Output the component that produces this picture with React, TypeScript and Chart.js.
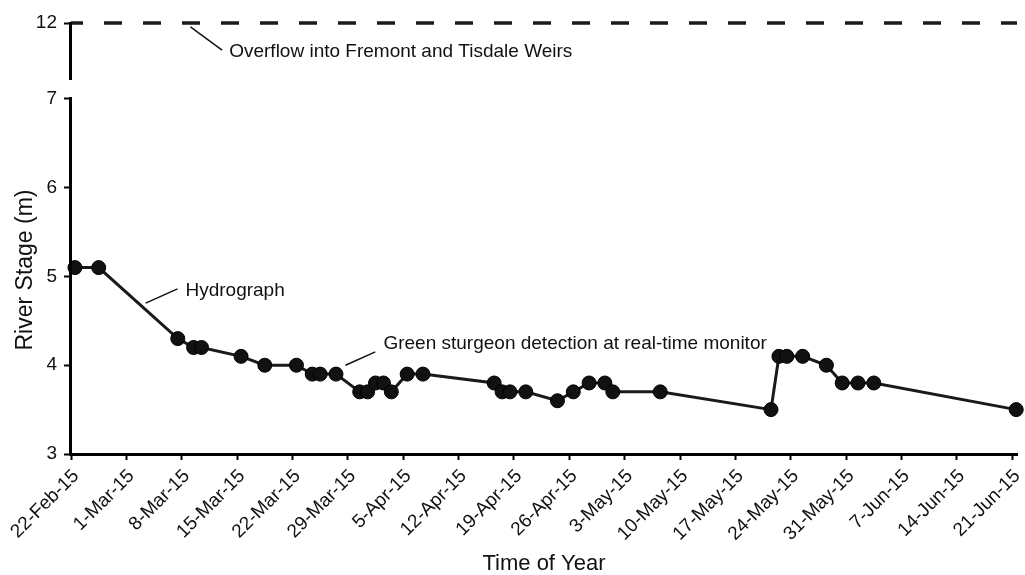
import { useEffect, useRef } from "react";
import { Chart, registerables } from "chart.js";

Chart.register(...registerables);

// ---------- data ----------
const START_DATE = "2015-02-22";
const SAMPLE_DATES = [
  "2015-02-22", "2015-02-25", "2015-03-07", "2015-03-09", "2015-03-10", "2015-03-15",
  "2015-03-18", "2015-03-22", "2015-03-24", "2015-03-25", "2015-03-27", "2015-03-30",
  "2015-03-31", "2015-04-01", "2015-04-02", "2015-04-03", "2015-04-05", "2015-04-07",
  "2015-04-16", "2015-04-17", "2015-04-18", "2015-04-20", "2015-04-24", "2015-04-26",
  "2015-04-28", "2015-04-30", "2015-05-01", "2015-05-07", "2015-05-21", "2015-05-22",
  "2015-05-23", "2015-05-25", "2015-05-28", "2015-05-30", "2015-06-01", "2015-06-03",
  "2015-06-21",
];
const RIVER_STAGE_M = [
  5.1, 5.1, 4.3, 4.2, 4.2, 4.1,
  4.0, 4.0, 3.9, 3.9, 3.9, 3.7,
  3.7, 3.8, 3.8, 3.7, 3.9, 3.9,
  3.8, 3.7, 3.7, 3.7, 3.6, 3.7,
  3.8, 3.8, 3.7, 3.7, 3.5, 4.1,
  4.1, 4.1, 4.0, 3.8, 3.8, 3.8,
  3.5,
];
const X_TICK_DATES = [
  "2015-02-22", "2015-03-01", "2015-03-08", "2015-03-15", "2015-03-22", "2015-03-29",
  "2015-04-05", "2015-04-12", "2015-04-19", "2015-04-26", "2015-05-03", "2015-05-10",
  "2015-05-17", "2015-05-24", "2015-05-31", "2015-06-07", "2015-06-14", "2015-06-21",
];
const Y_TICKS = [3, 4, 5, 6, 7];
const OVERFLOW_STAGE_M = 12;
const X_AXIS_END_DAY = 119.6;
const MONTHS = ["Jan", "Feb", "Mar", "Apr", "May", "Jun", "Jul", "Aug", "Sep", "Oct", "Nov", "Dec"];

// annotations: [day, stage (m)]
const ANNOTATION_TEXTS = [
  "Overflow into Fremont and Tisdale Weirs",
  "Hydrograph",
  "Green sturgeon detection at real-time monitor",
];
const ANNOTATION_LINE_FROM = [[15.1, 11.74], [9.44, 4.7], [34.7, 4.0]];
const ANNOTATION_LINE_TO = [[19.1, 10.22], [13.46, 4.86], [38.47, 4.15]];
const ANNOTATION_TEXT_AT = [[20.0, 10.1], [14.47, 4.84], [39.5, 4.24]];

// ---------- axis break ----------
const BREAK_FROM = 7;
const BREAK_SCALE = 0.1712;
const BREAK_GAP = [7.13, 8.25];
const toAxis = (v: number) => (v <= BREAK_FROM ? v : BREAK_FROM + (v - BREAK_FROM) * BREAK_SCALE);
const fromAxis = (v: number) => (v <= BREAK_FROM ? v : BREAK_FROM + (v - BREAK_FROM) / BREAK_SCALE);

const DAY_MS = 86400000;
const dayOf = (d: string) => (Date.parse(d) - Date.parse(START_DATE)) / DAY_MS;
const fmtDay = (day: number) => {
  const dt = new Date(Date.parse(START_DATE) + Math.round(day) * DAY_MS);
  return `${dt.getUTCDate()}-${MONTHS[dt.getUTCMonth()]}-${String(dt.getUTCFullYear()).slice(2)}`;
};

const FONT = "'Liberation Sans', Arial, Helvetica, sans-serif";
const INK = "#111";

const decorPlugin = {
  id: "decor",
  afterDraw(chart: any) {
    const { ctx, chartArea } = chart;
    const x = chart.scales.x;
    const y = chart.scales.y;
    ctx.save();
    // broken y axis line
    ctx.strokeStyle = "#000";
    ctx.lineWidth = 3;
    ctx.lineCap = "butt";
    const ax = chartArea.left - 0.5;
    ctx.beginPath();
    ctx.moveTo(ax, y.getPixelForValue(toAxis(OVERFLOW_STAGE_M)) - 1);
    ctx.lineTo(ax, y.getPixelForValue(toAxis(BREAK_GAP[1])));
    ctx.moveTo(ax, y.getPixelForValue(toAxis(BREAK_GAP[0])));
    ctx.lineTo(ax, chartArea.bottom + 1.5);
    ctx.stroke();

    // annotations
    ctx.lineWidth = 1.5;
    ctx.strokeStyle = INK;
    ctx.fillStyle = INK;
    ctx.font = `19px ${FONT}`;
    ctx.textAlign = "left";
    ctx.textBaseline = "middle";
    ANNOTATION_TEXTS.forEach((t, i) => {
      const f = ANNOTATION_LINE_FROM[i];
      const to = ANNOTATION_LINE_TO[i];
      const ta = ANNOTATION_TEXT_AT[i];
      ctx.beginPath();
      ctx.moveTo(x.getPixelForValue(f[0]), y.getPixelForValue(toAxis(f[1])));
      ctx.lineTo(x.getPixelForValue(to[0]), y.getPixelForValue(toAxis(to[1])));
      ctx.stroke();
      ctx.fillText(t, x.getPixelForValue(ta[0]), y.getPixelForValue(toAxis(ta[1])));
    });

    // y axis title
    ctx.font = `23px ${FONT}`;
    ctx.textAlign = "center";
    ctx.translate(26, 270);
    ctx.rotate(-Math.PI / 2);
    ctx.fillText("River Stage (m)", 0, 0);
    ctx.restore();
  },
};

export default function App() {
  const ref = useRef<HTMLCanvasElement | null>(null);

  useEffect(() => {
    if (!ref.current) return;
    const stagePoints = SAMPLE_DATES.map((d, i) => ({ x: dayOf(d) + 0.5, y: RIVER_STAGE_M[i] }));
    const overflowLine = [
      { x: 0, y: toAxis(OVERFLOW_STAGE_M) },
      { x: X_AXIS_END_DAY, y: toAxis(OVERFLOW_STAGE_M) },
    ];
    const chart = new Chart(ref.current, {
      type: "line",
      data: {
        datasets: [
          {
            label: "Hydrograph",
            data: stagePoints,
            borderColor: "#1a1a1a",
            borderWidth: 3,
            backgroundColor: "#111",
            pointBackgroundColor: "#111",
            pointBorderColor: "#000",
            pointBorderWidth: 1,
            pointRadius: 7,
            tension: 0,
            clip: false as any,
          },
          {
            label: "Overflow into Fremont and Tisdale Weirs",
            data: overflowLine,
            borderColor: "#1a1a1a",
            borderWidth: 3.5,
            borderDash: [18, 21],
            borderDashOffset: 6,
            pointRadius: 0,
            clip: false as any,
          },
        ],
      },
      options: {
        animation: false,
        responsive: false,
        devicePixelRatio: 1,
        layout: { padding: { top: 23, right: 3.5, bottom: 0, left: 0 } },
        plugins: { legend: { display: false }, tooltip: { enabled: false } },
        scales: {
          x: {
            type: "linear",
            min: 0,
            max: X_AXIS_END_DAY,
            afterBuildTicks: (s: any) => {
              s.ticks = X_TICK_DATES.map((d) => ({ value: dayOf(d) }));
            },
            afterFit: (s: any) => {
              s.height = 121;
              s.paddingLeft = 0;
              s.paddingRight = 0;
            },
            ticks: {
              autoSkip: false,
              maxRotation: 45,
              minRotation: 45,
              padding: 5,
              labelOffset: 5,
              color: INK,
              font: { family: FONT, size: 19 },
              callback: (v: any) => fmtDay(Number(v)),
            },
            grid: {
              drawOnChartArea: false,
              drawTicks: true,
              tickLength: 6,
              tickWidth: 2,
              tickColor: "#000",
            },
            border: { display: true, color: "#000", width: 3 },
            title: {
              display: true,
              text: "Time of Year",
              color: INK,
              font: { family: FONT, size: 22, lineHeight: 1 },
              padding: { top: 0, bottom: 0 },
            },
          },
          y: {
            type: "linear",
            min: 3,
            max: toAxis(OVERFLOW_STAGE_M),
            afterBuildTicks: (s: any) => {
              s.ticks = [...Y_TICKS, OVERFLOW_STAGE_M].map((v) => ({ value: toAxis(v) }));
            },
            afterFit: (s: any) => {
              s.width = 71;
              s.paddingTop = 0;
              s.paddingBottom = 0;
            },
            ticks: {
              padding: 7,
              color: INK,
              font: { family: FONT, size: 19 },
              callback: (v: any) => String(Math.round(fromAxis(Number(v)))),
            },
            grid: {
              drawOnChartArea: false,
              drawTicks: true,
              tickLength: 7,
              tickWidth: 2,
              tickColor: "#000",
            },
            border: { display: false },
          },
        },
      },
      plugins: [decorPlugin],
    });
    return () => chart.destroy();
  }, []);

  return (
    <div style={{ position: "fixed", left: 0, top: 0, width: 1025, height: 575, background: "#fff" }}>
      <canvas ref={ref} width={1025} height={575} style={{ width: 1025, height: 575 }} />
    </div>
  );
}
